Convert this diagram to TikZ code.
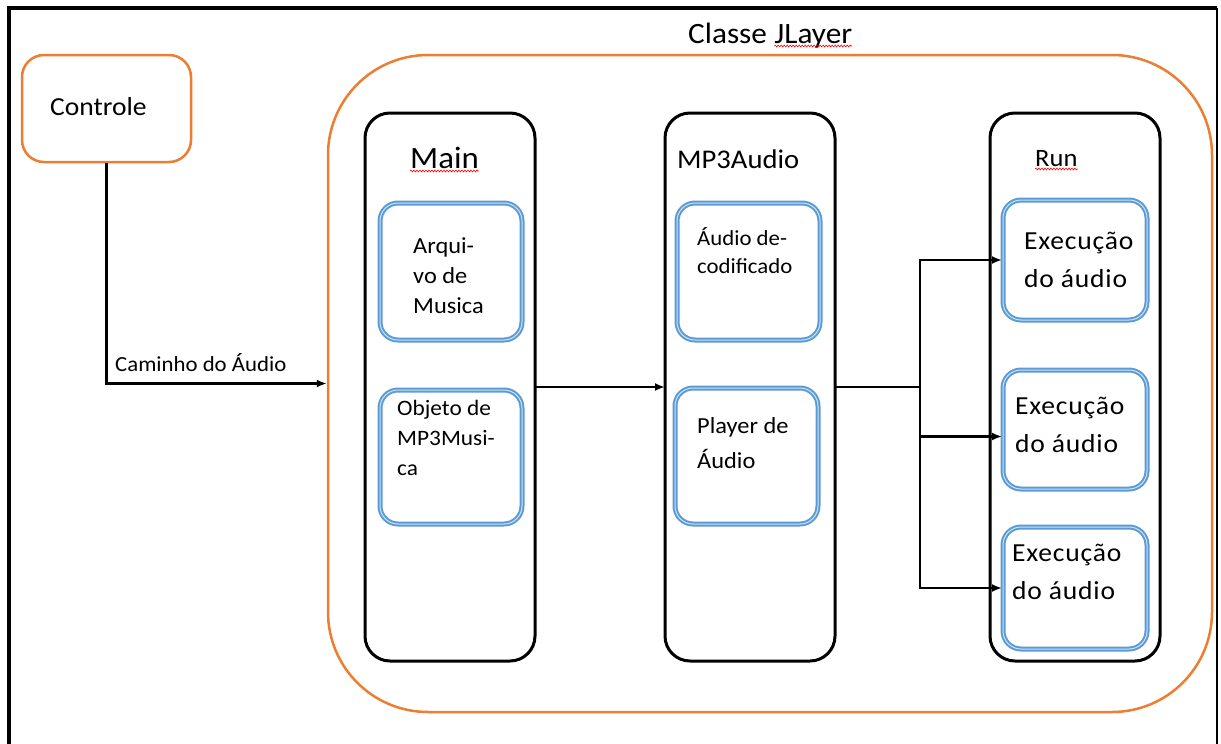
\documentclass[tikz,border=0pt]{standalone}
\usepackage{fontspec}
\setmainfont{Carlito}[FakeStretch=1.06]
\usetikzlibrary{positioning,arrows.meta,decorations.pathmorphing}
\definecolor{jorange}{HTML}{ED7D31}
\definecolor{jblue}{HTML}{5B9BD5}
\begin{document}
\begin{tikzpicture}[x=1pt, y=-1pt, >={Latex[length=10pt,width=8pt]},
orangebox/.style={draw=jorange, line width=2.5pt},
classbox/.style={draw=black, line width=3pt, outer sep=0pt, rounded corners=25pt, minimum width=170pt, minimum height=548pt},
partbox/.style={draw=jblue, line width=2pt, double=jblue!30, double distance=1pt, rounded corners=18pt},
lbl/.style={inner sep=0pt, anchor=base west, align=left},
spell/.style={draw=red, line width=0.6pt, decorate, decoration={snake, amplitude=0.9pt, segment length=3pt}},
link/.style={line width=2.4pt},
]
\useasboundingbox (0,0) rectangle (1221,744);
%Frame
\draw[line width=4pt] (9,744) -- (9,8) -- (1217,8);
\draw[line width=2pt] (1217,8) -- (1217,744);

%Nodes
\node[orangebox, rounded corners=22pt, minimum width=169pt, minimum height=107pt] (controle) at (106.5,108.5) {};
\node[orangebox, rounded corners=100pt, minimum width=884pt, minimum height=657pt] (jlayer) at (770,383.5) {};
\node[classbox] (main) at (450,387) {};
\node[classbox] (mp3audio) [right=130pt of main] {};
\node[classbox] (run) [right=155pt of mp3audio] {};

\node[partbox, minimum width=142pt, minimum height=137pt] (arquivo) at (451,271.5) {};
\node[partbox, minimum width=142pt, minimum height=134pt] (objeto) [below=48pt of arquivo] {};
\node[partbox, minimum width=143pt, minimum height=137pt] (audioDec) at (748.5,271.5) {};
\node[partbox, minimum width=143pt, minimum height=136pt] (player) at (746.5,456) {};
\node[partbox, minimum width=144pt, minimum height=120pt] (exec1) at (1075,260) {};
\node[partbox, minimum width=144pt, minimum height=119pt] (exec2) [below=48pt of exec1] {};
\node[partbox, minimum width=144pt, minimum height=122pt] (exec3) [below=36pt of exec2] {};

%Texts
\node[lbl, font=\fontsize{26}{31}\selectfont] (controleText) at (50,115.5) {Controle};
\node[lbl, font=\fontsize{29.5}{34}\selectfont] (classeText) at (688,43) {Classe};
\node[lbl, font=\fontsize{29.5}{34}\selectfont] (jlayerText) at ([xshift=7pt]classeText.base east) {JLayer};
\node[lbl, font=\fontsize{31}{36}\selectfont] (mainText) at (410,168) {Main};
\node[lbl, font=\fontsize{27}{32}\selectfont] (mp3Text) at (677,168) {MP3Audio};
\node[lbl, font=\fontsize{25}{30}\selectfont] (runText) at (1035,166) {Run};
\node[lbl, font=\fontsize{21.5}{26}\selectfont] (caminhoText) at (115,371) {Caminho do Áudio};

% multi-line texts sit on their last line
\node[lbl, font=\fontsize{23}{30}\selectfont] (arquivoText) at (413,313) {Arqui-\\vo de\\Musica};
\node[lbl, font=\fontsize{22}{30}\selectfont] (objetoText) at (397,475) {Objeto de\\MP3Musi-\\ca};
\node[lbl, font=\fontsize{21.5}{28}\selectfont] (audioDecText) at (697,273) {Áudio de-\\codificado};
\node[lbl, font=\fontsize{23}{35}\selectfont] (playerText) at (697,468) {Player de\\Áudio};
\node[lbl, font=\fontsize{26}{38}\selectfont\addfontfeature{LetterSpace=3}] (exec1Text) at (1024,287) {Execução\\do áudio};
\node[lbl, font=\fontsize{26}{38}\selectfont\addfontfeature{LetterSpace=3}] (exec2Text) at (1015,452) {Execução\\do áudio};
\node[lbl, font=\fontsize{26}{38}\selectfont\addfontfeature{LetterSpace=3}] (exec3Text) at (1012,599) {Execução\\do áudio};

%Spelling marks
\draw[spell] ([yshift=-3pt]jlayerText.base west) -- ([yshift=-3pt]jlayerText.base east);
\draw[spell] ([yshift=-3pt]mainText.base west) -- ([yshift=-3pt]mainText.base east);
\draw[spell] ([yshift=-3pt]runText.base west) -- ([yshift=-3pt]runText.base east);

%Lines
\coordinate (split) at (920,387);
\draw[link, ->] (controle.south) |- (jlayer.west);
\draw[link, ->] (main.east) -- (mp3audio.west);
\draw[link] (mp3audio.east) -- (split);
\draw[link, ->] (split) |- (exec1.west);
\draw[link, ->] (split) |- ([yshift=-7pt]exec2.west);
\draw[link, ->] (split) |- (exec3.west);
\end{tikzpicture}
\end{document}
